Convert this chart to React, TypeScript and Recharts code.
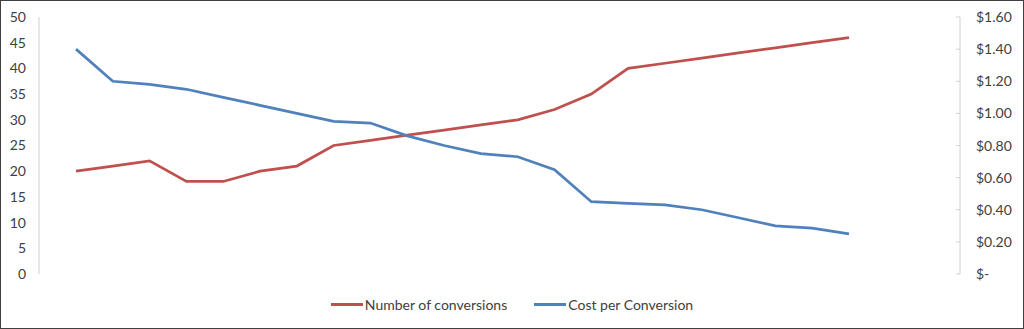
import React from "react";
import { LineChart, Line, XAxis, YAxis, Legend } from "recharts";

const categories = ["1","2","3","4","5","6","7","8","9","10","11","12","13","14","15","16","17","18","19","20","21","22"];
const conversions = [20, 21, 22, 18, 18, 20, 21, 25, 26, 27, 28, 29, 30, 32, 35, 40, 41, 42, 43, 44, 45, 46];
const costPerConversion = [1.40, 1.20, 1.18, 1.15, 1.10, 1.05, 1.00, 0.95, 0.94, 0.86, 0.80, 0.75, 0.73, 0.65, 0.45, 0.44, 0.43, 0.40, 0.35, 0.30, 0.285, 0.25];
const leftTicks = [0, 5, 10, 15, 20, 25, 30, 35, 40, 45, 50];
const rightTicks = [0, 0.2, 0.4, 0.6, 0.8, 1.0, 1.2, 1.4, 1.6];
const seriesNames = ["Number of conversions", "Cost per Conversion"];

const RED = "#C0504D";
const BLUE = "#4F81BD";
const TEXT = "#404040";
const AXIS = "#D0D0D0";
const FONT = "Lato, 'Open Sans', sans-serif";

const data = categories.map((c, i) => ({
  cat: c,
  conv: conversions[i],
  cost: costPerConversion[i],
}));

const fmtMoney = (v: number) => (v === 0 ? "$-" : "$" + v.toFixed(2));

const RightTick = (props: any) => {
  const { x, y, payload } = props;
  const m = 16;
  return (
    <g>
      <line x1={x - m - 4} x2={x - m} y1={y} y2={y} stroke={AXIS} strokeWidth={1} />
      <text x={x} y={y} dy={5} textAnchor="start" fill={TEXT} fontSize={14} fontFamily={FONT}>
        {fmtMoney(payload.value)}
      </text>
    </g>
  );
};

const LegendContent = () => (
  <div
    style={{
      display: "flex",
      justifyContent: "center",
      alignItems: "center",
      gap: 27,
      fontFamily: FONT,
      fontSize: 14,
      color: TEXT,
      width: 1024,
    }}
  >
    {[RED, BLUE].map((c, i) => (
      <div key={i} style={{ display: "flex", alignItems: "center" }}>
        <span style={{ display: "inline-block", width: 32, height: 3, background: c, marginRight: 2 }} />
        <span>{seriesNames[i]}</span>
      </div>
    ))}
  </div>
);

export default function App() {
  return (
    <div
      style={{
        position: "absolute",
        top: 0,
        left: 0,
        width: 1024,
        height: 329,
        background: "#fff",
        boxShadow: "inset 0 0 0 1px #404040",
      }}
    >
      <LineChart
        width={1024}
        height={329}
        data={data}
        margin={{ top: 17, right: 0, bottom: 55, left: 0 }}
      >
        <XAxis dataKey="cat" hide padding={{ left: 37, right: 111 }} />
        <YAxis
          yAxisId="left"
          orientation="left"
          width={39}
          domain={[0, 50]}
          ticks={leftTicks}
          interval={0}
          axisLine={{ stroke: AXIS, strokeWidth: 1 }}
          tickLine={false}
          tickSize={0}
          tickMargin={13}
          tick={{ fill: TEXT, fontSize: 14, fontFamily: FONT }}
        />
        <YAxis
          yAxisId="right"
          orientation="right"
          width={64}
          domain={[0, 1.6]}
          ticks={rightTicks}
          interval={0}
          axisLine={{ stroke: AXIS, strokeWidth: 1 }}
          tickLine={false}
          tickSize={0}
          tickMargin={16}
          tick={<RightTick />}
        />
        <Legend
          layout="horizontal"
          verticalAlign="middle"
          align="center"
          content={<LegendContent />}
          wrapperStyle={{ position: "absolute", top: 296, left: 0, width: 1024 }}
        />
        <Line
          yAxisId="left"
          type="linear"
          dataKey="conv"
          name={seriesNames[0]}
          stroke={RED}
          strokeWidth={2.75}
          dot={false}
          isAnimationActive={false}
        />
        <Line
          yAxisId="right"
          type="linear"
          dataKey="cost"
          name={seriesNames[1]}
          stroke={BLUE}
          strokeWidth={2.75}
          dot={false}
          isAnimationActive={false}
        />
      </LineChart>
    </div>
  );
}
